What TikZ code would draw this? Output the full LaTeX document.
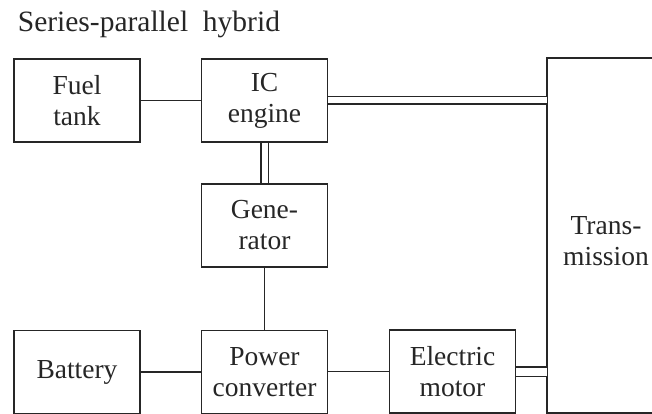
\documentclass[tikz,border=0pt]{standalone}
\usepackage{fontspec}
\setmainfont{Liberation Serif}
\usetikzlibrary{positioning}

\begin{document}
\begin{tikzpicture}[x=1pt, y=-1pt, line width=1.7pt, draw=black!85,
    unit/.style={draw, rectangle, minimum width=126pt, minimum height=83pt, inner sep=0pt,
        align=center, font=\fontsize{27.5}{31}\selectfont, text=black!85},
    shaft/.style={double, double distance=6pt}]
    \useasboundingbox (0,0) rectangle (652,414);
    \node[anchor=base west, inner sep=0pt, font=\fontsize{29.5}{34}\selectfont, text=black!85] (title) at (17,32) {Series-parallel\ \ hybrid};
    % blocks
    \node[unit] (fueltank) at (77,100.5) {Fuel\\tank};
    \node[unit] (engine) at (264.5,100.5) {IC\\engine};
    \node[unit] (generator) at (264.5,225.5) {Gene-\\rator};
    \node[unit] (converter) at (264.5,372) {Power\\converter};
    \node[unit] (battery) at (77,372) {Battery};
    \node[unit] (motor) at (452.5,371.5) {Electric\\motor};
    % transmission, open to the right
    \coordinate (transtop) at (547,58);
    \coordinate (transbot) at (547,413);
    \draw (652,58) -- (transtop) -- (transbot) -- (652,413);
    \node[align=center, font=\fontsize{27.5}{31}\selectfont, text=black!85] (transmission) at (606,241) {Trans-\\mission};
    % links
    \draw (fueltank) -- (engine);
    \draw[shaft] (engine.east) -- (engine.east -| transtop);
    \draw[shaft] (engine) -- (generator);
    \draw (generator) -- (converter);
    \draw (battery) -- (converter);
    \draw (converter.east |- motor.west) -- (motor.west);
    \draw[shaft, double distance=8pt] (motor.east) -- (motor.east -| transtop);
\end{tikzpicture}
\end{document}
